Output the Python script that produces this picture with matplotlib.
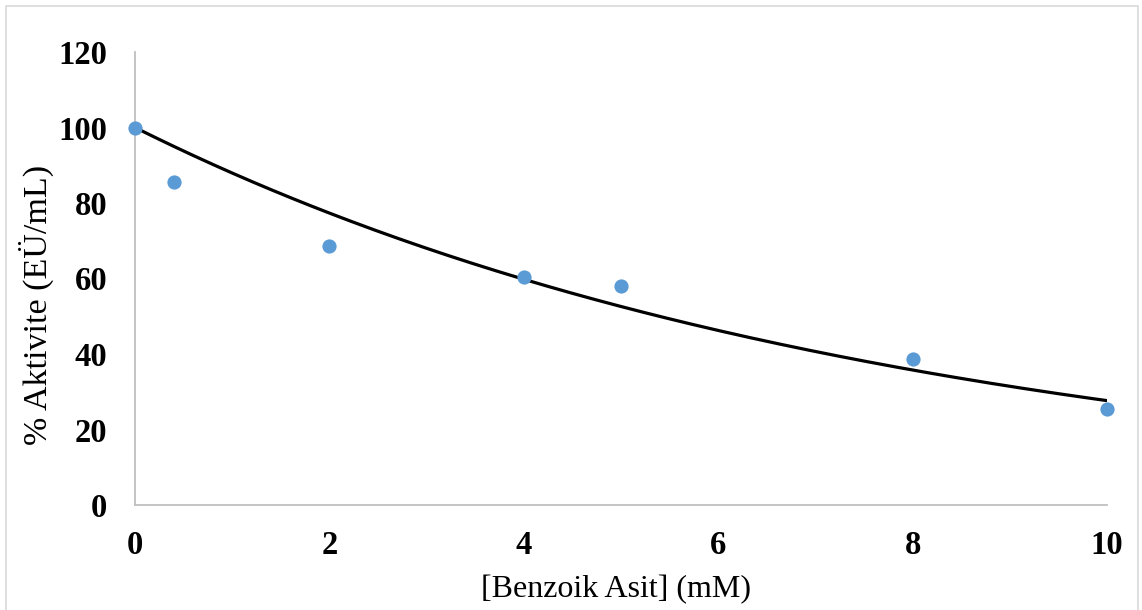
import numpy as np
import matplotlib
matplotlib.use("Agg")
import matplotlib.pyplot as plt
from matplotlib.patches import Rectangle

# Data
conc_mM = [0, 0.4, 2, 4, 5, 8, 10]
activity_pct = [100, 85.6, 68.7, 60.3, 57.9, 38.6, 25.4]
x_ticks = [0, 2, 4, 6, 8, 10]
y_ticks = [0, 20, 40, 60, 80, 100, 120]
x_label = "[Benzoik Asit] (mM)"
y_label = "% Aktivite (EÜ/mL)"

# Exponential trendline with intercept fixed at 100 (least squares on log scale)
x = np.array(conc_mM, dtype=float)
y = np.array(activity_pct, dtype=float)
b = np.sum(x * (np.log(y) - np.log(100))) / np.sum(x ** 2)
xf = np.linspace(0, 10, 200)
yf = 100 * np.exp(b * xf)

W, H = 1142, 610
fig = plt.figure(figsize=(W / 100, H / 100), dpi=100)
ax = fig.add_axes([135 / W, 1 - 505 / H, (1107 - 135) / W, (505 - 52) / H])

ax.plot(xf, yf, color="black", lw=2.3, zorder=2)
ax.scatter(x, y, s=105, color="#5B9BD5", zorder=3, linewidths=0, clip_on=False)

ax.set_xlim(0, 10)
ax.set_ylim(0, 120)
ax.set_xticks(x_ticks)
ax.set_yticks(y_ticks)
serif = ["Liberation Serif", "DejaVu Serif"]
for lab in ax.get_xticklabels() + ax.get_yticklabels():
    lab.set_fontfamily(serif)
    lab.set_fontweight("bold")
    lab.set_fontsize(23.5)
ax.tick_params(axis="both", length=0)
ax.tick_params(axis="x", pad=18)
ax.tick_params(axis="y", pad=20)

for s in ["top", "right"]:
    ax.spines[s].set_visible(False)
for s in ["left", "bottom"]:
    ax.spines[s].set_color("#BFBFBF")
    ax.spines[s].set_linewidth(1.3)

ax.set_xlabel(x_label, fontfamily=serif, fontsize=23)
ax.set_ylabel(y_label, fontfamily=serif, fontsize=24.5)
ax.xaxis.set_label_coords(0.495, -0.155)
ax.yaxis.set_label_coords(-0.083, 0.4415)

fig.patches.append(Rectangle((6 / W, -0.01), (1138 - 6) / W, 1 - 6 / H + 0.01,
                             transform=fig.transFigure, fill=False,
                             edgecolor="#D9D9D9", lw=1.2))

fig.savefig("out.png", dpi=100)
